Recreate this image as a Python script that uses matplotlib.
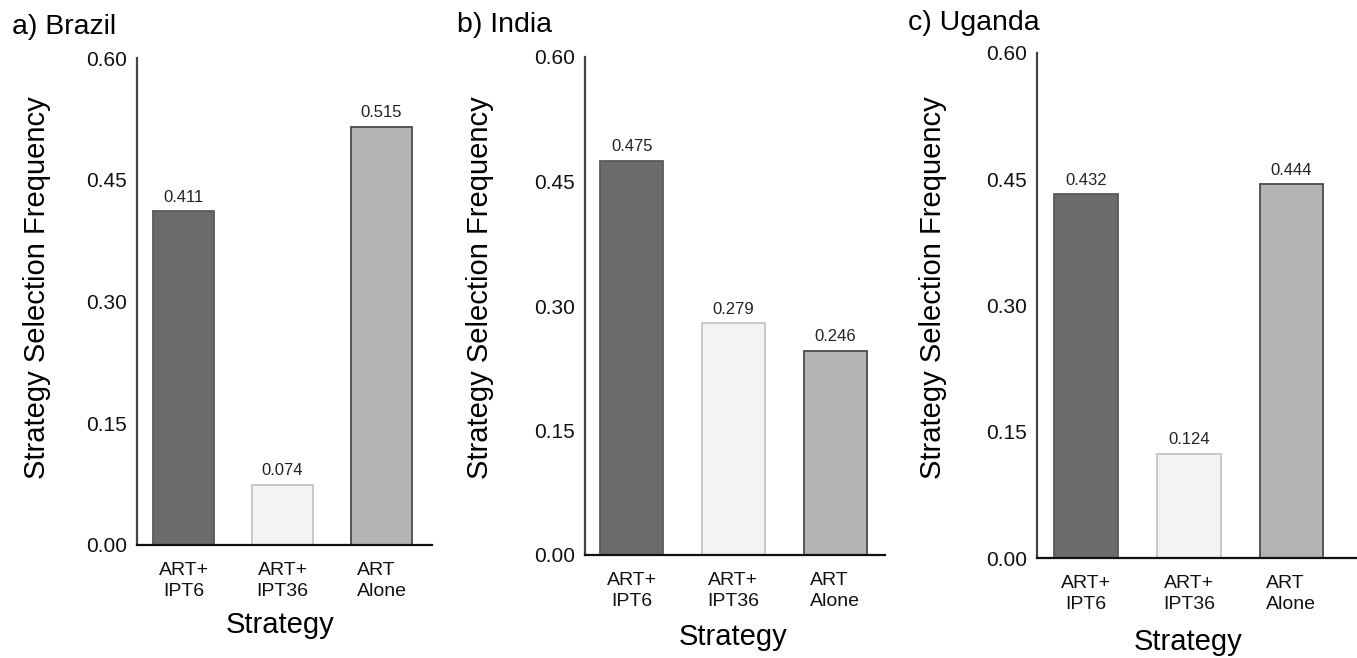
import matplotlib
matplotlib.use('Agg')
import matplotlib.pyplot as plt

plt.rcParams['font.family'] = ['Liberation Sans', 'DejaVu Sans']

# data
strategies = ['ART+\nIPT6', 'ART+\nIPT36', 'ART\nAlone']
countries = ['a) Brazil', 'b) India', 'c) Uganda']
brazil = [0.411, 0.074, 0.515]
india = [0.475, 0.279, 0.246]
uganda = [0.432, 0.124, 0.444]
yticks = [0.00, 0.15, 0.30, 0.45, 0.60]

bar_colors = ['#6b6b6b', '#f3f3f3', '#b3b3b3']
edge_colors = ['#5a5a5a', '#c4c4c4', '#4a4a4a']

W, H = 1357, 658
fig = plt.figure(figsize=(W / 100, H / 100), dpi=100)

# axes boxes in pixels: left, top, right, bottom, and xlim
boxes = [(137, 58, 432, 545, (-0.47, 2.51)),
         (585, 57, 885, 555, (-0.46, 2.49)),
         (1037, 53, 1357, 558, (-0.48, 2.64))]
title_pos = [(12, 27), (457, 25), (908, 23)]
ylab_pos = [(-0.339, 0.528), (-0.35, 0.536), (-0.325, 0.535)]
xlab_pos = [(0.485, -0.164), (0.493, -0.165), (0.472, -0.166)]

for i, (vals, name) in enumerate(zip([brazil, india, uganda], countries)):
    l, t, r, b, xl = boxes[i]
    ax = fig.add_axes([l / W, 1 - b / H, (r - l) / W, (b - t) / H])
    xs = range(len(vals))
    ax.bar(xs, vals, width=0.62, color=bar_colors, edgecolor=edge_colors, linewidth=1.3)
    for x, v in zip(xs, vals):
        ax.text(x, v + 0.008, '%.3f' % v, ha='center', va='bottom', fontsize=12, color='#222222')
    ax.set_xlim(*xl)
    ax.set_ylim(0, 0.6)
    ax.set_yticks(yticks)
    ax.set_yticklabels(['%.2f' % y for y in yticks])
    ax.set_xticks(list(xs))
    ax.set_xticklabels(strategies, linespacing=1.3)
    ax.get_xticklabels()[2].set_multialignment('left')
    ax.tick_params(axis='y', length=0, labelsize=15, colors='#111111', pad=7)
    ax.tick_params(axis='x', length=0, labelsize=14, colors='#111111', pad=12)
    for s in ['top', 'right']:
        ax.spines[s].set_visible(False)
    ax.spines['left'].set_color('#444444')
    ax.spines['left'].set_linewidth(1.6)
    ax.spines['bottom'].set_color('#111111')
    ax.spines['bottom'].set_linewidth(1.6)
    ax.set_ylabel('Strategy Selection Frequency', fontsize=21)
    ax.yaxis.set_label_coords(*ylab_pos[i])
    ax.set_xlabel('Strategy', fontsize=21)
    ax.xaxis.set_label_coords(*xlab_pos[i])
    ax.xaxis.label.set_va('center')
    ax.yaxis.label.set_va('center')
    tx, ty = title_pos[i]
    fig.text(tx / W, 1 - ty / H, name, fontsize=20.5, ha='left', va='center')

fig.savefig('out.png', dpi=100)
